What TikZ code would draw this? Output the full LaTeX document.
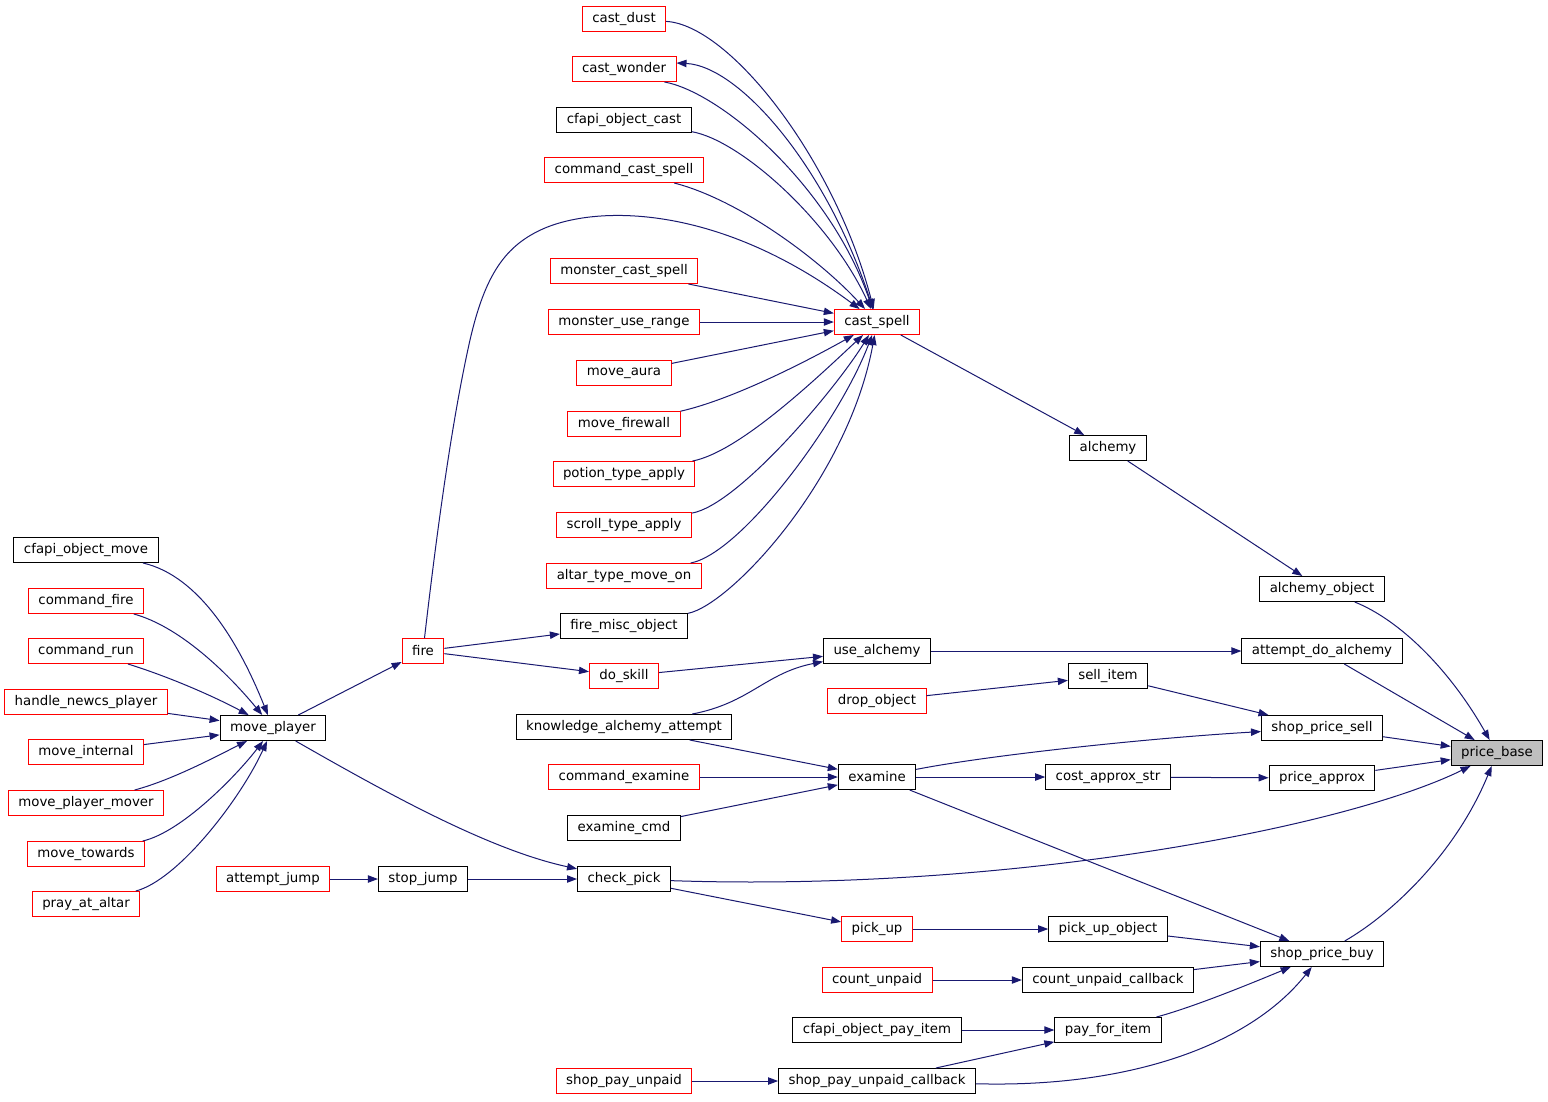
\documentclass[tikz,border=0pt]{standalone}
\usepackage{fontspec}
\setmainfont{DejaVu Sans}
\usetikzlibrary{arrows.meta}
\definecolor{edgec}{HTML}{191970}
\definecolor{nodered}{HTML}{FF0000}
\definecolor{grayfill}{HTML}{BFBFBF}
\tikzset{
  blk/.style={draw=black, line width=0.75pt, fill=white, minimum height=18.75pt,
    inner xsep=7.5pt, inner ysep=0pt, font=\fontsize{10pt}{12pt}\selectfont, anchor=center},
  redn/.style={blk, draw=nodered},
  callarrow/.style={draw=edgec, line width=0.75pt, -{Triangle[length=7.5pt,width=5.5pt]}},
}
\begin{document}
\begin{tikzpicture}[x=0.75pt,y=-0.75pt]
\useasboundingbox[fill=white] (0,0) rectangle (1548,1101);
% column 1
\node[blk]  (cfapimove)   at (86,550) {cfapi\_object\_move};
\node[redn] (cmdfire)     at (86,601) {command\_fire};
\node[redn] (cmdrun)      at (86,651) {command\_run};
\node[redn] (handlenewcs) at (86,702) {handle\_newcs\_player};
\node[redn] (moveinternal) at (86,752) {move\_internal};
\node[redn] (mpmover)     at (86,803) {move\_player\_mover};
\node[redn] (movetowards) at (86,854) {move\_towards};
\node[redn] (prayaltar)   at (86,904) {pray\_at\_altar};
% column 2
\node[blk]  (movepl)   at (273,728) {move\_player};
\node[redn] (attjump)  at (273,879) {attempt\_jump};
% column 3
\node[redn] (fire)     at (423,651) {fire};
\node[blk]  (stopjump) at (423,879) {stop\_jump};
% column 4
\node[redn] (castdust)   at (624,19)  {cast\_dust};
\node[redn] (castwonder) at (624,69)  {cast\_wonder};
\node[blk]  (cfapicast)  at (624,120) {cfapi\_object\_cast};
\node[redn] (cmdcast)    at (624,170) {command\_cast\_spell};
\node[redn] (mcastspell) at (624,271) {monster\_cast\_spell};
\node[redn] (muserange)  at (624,322) {monster\_use\_range};
\node[redn] (moveaura)   at (624,373) {move\_aura};
\node[redn] (movefirewall) at (624,424) {move\_firewall};
\node[redn] (potion)     at (624,474) {potion\_type\_apply};
\node[redn] (scroll)     at (624,525) {scroll\_type\_apply};
\node[redn] (altar)      at (624,576) {altar\_type\_move\_on};
\node[blk]  (firemisc)   at (624,626) {fire\_misc\_object};
\node[redn] (doskill)    at (624,676) {do\_skill};
\node[blk]  (knowledge)  at (624,727) {knowledge\_alchemy\_attempt};
\node[redn] (cmdexamine) at (624,777) {command\_examine};
\node[blk]  (examinecmd) at (624,828) {examine\_cmd};
\node[blk]  (checkpick)  at (624,879) {check\_pick};
\node[redn] (shoppayunpaid) at (624,1081) {shop\_pay\_unpaid};
% column 5
\node[redn] (castspell)  at (877,322)  {cast\_spell};
\node[blk]  (usealch)    at (877,651)  {use\_alchemy};
\node[redn] (dropobj)    at (877,701)  {drop\_object};
\node[blk]  (examine)    at (877,777)  {examine};
\node[redn] (pickup)     at (877,929)  {pick\_up};
\node[redn] (countunpaid) at (877,980) {count\_unpaid};
\node[blk]  (cfapipay)   at (877,1030) {cfapi\_object\_pay\_item};
\node[blk]  (spucb)      at (877,1081) {shop\_pay\_unpaid\_callback};
% column 6
\node[blk] (alchemy)    at (1108,448)  {alchemy};
\node[blk] (sellitem)   at (1108,676)  {sell\_item};
\node[blk] (costapprox) at (1108,777)  {cost\_approx\_str};
\node[blk] (pickupobj)  at (1108,929)  {pick\_up\_object};
\node[blk] (cucb)       at (1108,980)  {count\_unpaid\_callback};
\node[blk] (payforitem) at (1108,1030) {pay\_for\_item};
% column 7
\node[blk] (alchobj)     at (1322,589) {alchemy\_object};
\node[blk] (attdoalch)   at (1322,651) {attempt\_do\_alchemy};
\node[blk] (shopsell)    at (1322,728) {shop\_price\_sell};
\node[blk] (priceapprox) at (1322,778) {price\_approx};
\node[blk] (shopbuy)     at (1322,954) {shop\_price\_buy};
% column 8
\node[blk, fill=grayfill] (pricebase) at (1497,753) {price\_base};

% straight edges
\draw[callarrow] (movepl) -- (fire);
\draw[callarrow] (fire) -- (firemisc);
\draw[callarrow] (fire) -- (doskill);
\draw[callarrow] (attjump) -- (stopjump);
\draw[callarrow] (stopjump) -- (checkpick);
\draw[callarrow] (handlenewcs) -- (movepl);
\draw[callarrow] (moveinternal) -- (movepl);
\draw[callarrow] (mcastspell) -- (castspell);
\draw[callarrow] (muserange) -- (castspell);
\draw[callarrow] (moveaura) -- (castspell);
\draw[callarrow] (doskill) -- (usealch);
\draw[callarrow] (knowledge) -- (examine);
\draw[callarrow] (cmdexamine) -- (examine);
\draw[callarrow] (examinecmd) -- (examine);
\draw[callarrow] (checkpick) -- (pickup);
\draw[callarrow] (shoppayunpaid) -- (spucb);
\draw[callarrow] (castspell) -- (alchemy);
\draw[callarrow] (usealch) -- (attdoalch);
\draw[callarrow] (dropobj) -- (sellitem);
\draw[callarrow] (examine) -- (costapprox);
\draw[callarrow] (pickup) -- (pickupobj);
\draw[callarrow] (countunpaid) -- (cucb);
\draw[callarrow] (cfapipay) -- (payforitem);
\draw[callarrow] (spucb) -- (payforitem);
\draw[callarrow] (examine) -- (shopbuy);
\draw[callarrow] (alchemy) -- (alchobj);
\draw[callarrow] (sellitem) -- (shopsell);
\draw[callarrow] (costapprox) -- (priceapprox);
\draw[callarrow] (pickupobj) -- (shopbuy);
\draw[callarrow] (cucb) -- (shopbuy);
\draw[callarrow] (attdoalch) -- (pricebase);
\draw[callarrow] (shopsell) -- (pricebase);
\draw[callarrow] (priceapprox) -- (pricebase);

% curved edges into cast_spell
\draw[callarrow] (castdust) .. controls (730,25) and (835,160) .. (castspell);
\draw[callarrow] (castspell) .. controls (830,170) and (740,66) .. ([yshift=4.5pt]castwonder.east);
\draw[callarrow] ([xshift=-9pt]castwonder.south east) .. controls (720,92) and (830,185) .. (castspell);
\draw[callarrow] (cfapicast) .. controls (740,140) and (830,220) .. (castspell);
\draw[callarrow] (cmdcast) .. controls (740,200) and (820,260) .. (castspell);
\draw[callarrow] (fire) .. controls (437,530) and (452,420) .. (470,340)
                        .. controls (485,275) and (505,245) .. (545,228)
                        .. controls (600,205) and (720,205) .. (castspell);
\draw[callarrow] (movefirewall) .. controls (730,400) and (800,365) .. (castspell);
\draw[callarrow] (potion) .. controls (740,452) and (820,375) .. (castspell);
\draw[callarrow] (scroll) .. controls (738,505) and (835,390) .. (castspell);
\draw[callarrow] (altar) .. controls (742,553) and (840,420) .. (castspell);
\draw[callarrow] (firemisc) .. controls (730,605) and (848,480) .. (castspell);

% curved edges into move_player
\draw[callarrow] (cfapimove) .. controls (200,576) and (240,645) .. (movepl);
\draw[callarrow] (cmdfire) .. controls (178,626) and (225,670) .. (movepl);
\draw[callarrow] (cmdrun) .. controls (170,677) and (215,697) .. (movepl);
\draw[callarrow] (mpmover) .. controls (172,780) and (215,757) .. (movepl);
\draw[callarrow] (movetowards) .. controls (182,832) and (237,775) .. (movepl);
\draw[callarrow] (prayaltar) .. controls (178,880) and (240,800) .. (movepl);

% other curves
\draw[callarrow] (movepl) .. controls (390,795) and (490,850) .. (checkpick);
\draw[callarrow] (knowledge) .. controls (750,703) and (765,673) .. (usealch);
\draw[callarrow] (examine) .. controls (990,755) and (1150,738) .. (shopsell);
\draw[callarrow] (checkpick) .. controls (1000,892) and (1340,830) .. (pricebase);
\draw[callarrow] (shopbuy) .. controls (1390,915) and (1455,855) .. (pricebase);
\draw[callarrow] (alchobj) .. controls (1400,620) and (1450,670) .. (pricebase);
\draw[callarrow] (payforitem) .. controls (1190,1008) and (1240,988) .. (shopbuy);
\draw[callarrow] (spucb) .. controls (1130,1088) and (1250,1045) .. (shopbuy);
\end{tikzpicture}
\end{document}
